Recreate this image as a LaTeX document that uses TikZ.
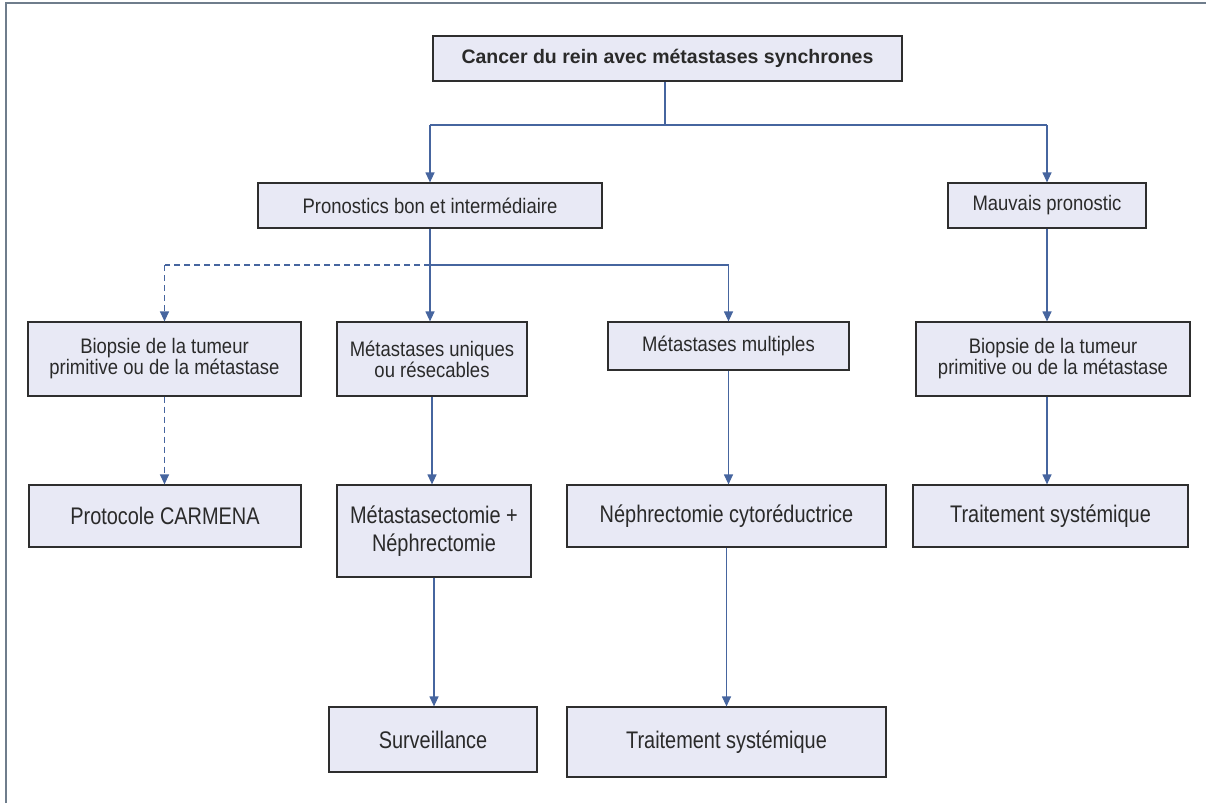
\documentclass[tikz,border=0pt]{standalone}
\usepackage{fontspec}
\setmainfont{Liberation Sans}
\newfontfamily\rowfont[FakeStretch=0.88]{Liberation Sans}
\newfontfamily\bigfont[FakeStretch=0.83]{Liberation Sans}
\usetikzlibrary{arrows.meta}
\definecolor{boxfill}{HTML}{E8E9F5}
\definecolor{boxline}{HTML}{2E2E2E}
\definecolor{txt}{HTML}{2A2A2A}
\definecolor{conncol}{HTML}{46659F}
\definecolor{framecol}{HTML}{6F7D8C}
\tikzset{
  box/.style={draw=boxline, fill=boxfill, line width=1.2pt, inner sep=0pt, align=center, text=txt},
  rowtext/.style={font=\rowfont\fontsize{21}{21}\selectfont},
  bigtext/.style={font=\bigfont\fontsize{24}{28}\selectfont},
  conn/.style={draw=conncol, line width=1.2pt},
  arr/.style={conn, -{Triangle[width=9pt,length=10pt]}},
  darr/.style={arr, dash pattern=on 6pt off 4pt},
  dline/.style={conn, dash pattern=on 6pt off 4pt},
}
\begin{document}
\begin{tikzpicture}[x=1pt,y=-1pt]
\useasboundingbox (0,0) rectangle (1206,803);
\fill[white] (0,0) rectangle (1206,803);
\draw[framecol, line width=1.5pt] (6,803) -- (6,3) -- (1206,3);

\node[box, line width=2.5pt, minimum width=469pt, minimum height=45pt, font=\bfseries\fontsize{19.5}{21}\selectfont] (top) at (667.5,58.5) {Cancer du rein avec métastases synchrones};

\node[box, rowtext, minimum width=344pt, minimum height=45pt] (pron) at (430,205.5) {Pronostics bon et intermédiaire};
\node[box, rowtext, minimum width=198pt, minimum height=45pt] (mauv) at (1047,205.5) {Mauvais pronostic};

\node[box, rowtext, minimum width=273pt, minimum height=74pt] (bioL) at (164.5,359) {Biopsie de la tumeur\\primitive ou de la métastase};
\node[box, rowtext, minimum width=190pt, minimum height=74pt] (uniq) at (432,359) {Métastases uniques\\ou résecables};
\node[box, rowtext, minimum width=241pt, minimum height=48pt] (mult) at (728.5,346) {Métastases multiples};
\node[box, rowtext, minimum width=274pt, minimum height=74pt] (bioR) at (1053,359) {Biopsie de la tumeur\\primitive ou de la métastase};

\node[box, bigtext, minimum width=272pt, minimum height=62pt] (carm) at (165,516) {Protocole CARMENA};
\node[box, bigtext, minimum width=194pt, minimum height=92pt] (mect) at (434,531) {Métastasectomie +\\Néphrectomie};
\node[box, bigtext, minimum width=319pt, minimum height=62pt] (neph) at (726.5,516) {Néphrectomie cytoréductrice};
\node[box, bigtext, minimum width=275pt, minimum height=62pt] (trR) at (1050.5,516) {Traitement systémique};

\node[box, bigtext, minimum width=208pt, minimum height=65pt] (surv) at (433,739.5) {Surveillance};
\node[box, bigtext, minimum width=319pt, minimum height=70pt] (trB) at (726.5,742) {Traitement systémique};

\coordinate (j1) at (665,125);
\coordinate (j2) at (430,265);

\draw[conn] (top.south -| j1) -- (j1);
\draw[conn] (pron.north |- j1) -- (mauv.north |- j1);
\draw[arr] (pron.north |- j1) -- (pron.north);
\draw[arr] (mauv.north |- j1) -- (mauv.north);

\draw[conn] (pron.south) -- (j2);
\draw[arr] (j2) -- (j2 |- uniq.north);
\draw[conn] (j2) -- (mult.north |- j2);
\draw[arr] (mult.north |- j2) -- (mult.north);
\draw[dline] (j2) -- (bioL.north |- j2);
\draw[darr] (bioL.north |- j2) -- (bioL.north);

\draw[arr] (mauv.south) -- (mauv.south |- bioR.north);

\draw[darr] (bioL.south) -- (bioL.south |- carm.north);
\draw[arr] (uniq.south) -- (uniq.south |- mect.north);
\draw[arr] (mult.south) -- (mult.south |- neph.north);
\draw[arr] (mauv.south |- bioR.south) -- (mauv.south |- trR.north);

\draw[arr] (mect.south) -- (mect.south |- surv.north);
\draw[arr] (neph.south) -- (neph.south |- trB.north);
\end{tikzpicture}
\end{document}
